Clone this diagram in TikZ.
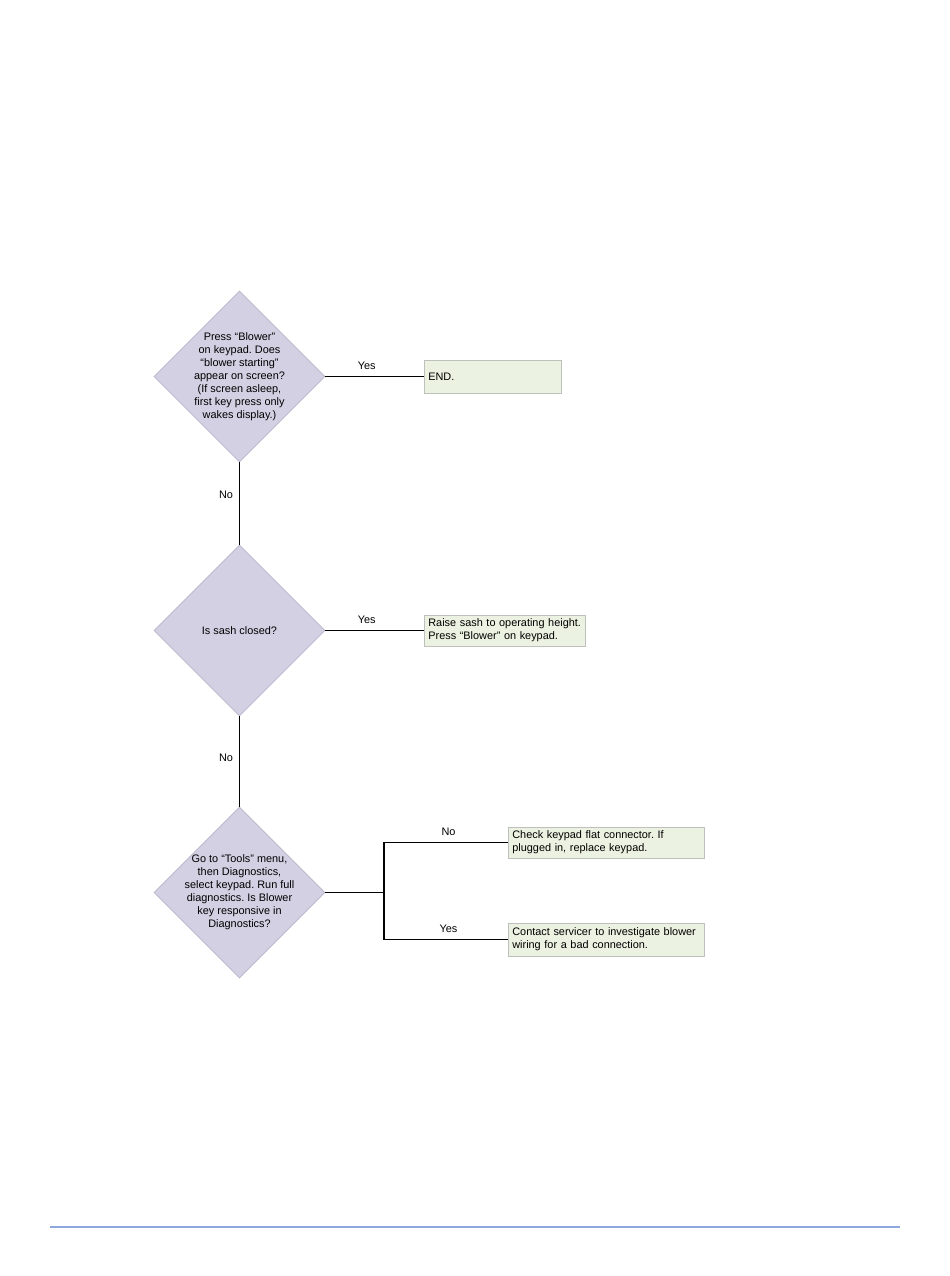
\documentclass[tikz,border=0pt]{standalone}
\usepackage{fontspec}
\setmainfont{Liberation Sans}
\usepackage{xcolor}
\usetikzlibrary{shapes.geometric}
\definecolor{LilaRombo}{RGB}{212,208,227}
\definecolor{BordeRombo}{RGB}{184,180,200}
\definecolor{VerdeCaja}{RGB}{236,242,225}
\definecolor{BordeCaja}{RGB}{190,192,188}
\definecolor{AzulLinea}{RGB}{143,168,220}
\frenchspacing

\begin{document}
\begin{tikzpicture}[
    font=\fontsize{6.2}{7.4}\selectfont,
    rombo/.style={diamond,draw=BordeRombo,fill=LilaRombo,
      minimum width=3.42cm,minimum height=3.42cm,inner sep=0pt},
    pregunta/.style={align=center},
    caja/.style={draw=BordeCaja,fill=VerdeCaja,anchor=west,
      align=left,inner xsep=0.08cm,inner ysep=0pt},
    linea/.style={line width=0.7pt}]
  \useasboundingbox (0,0) rectangle (19,-25.52);

  % preguntas
  \node[rombo] (q1) at (4.79,-7.53) {};
  \node[pregunta] (q1t) at (q1) {Press “Blower”\\ on keypad. Does\\ “blower starting”\\
    appear on screen?\\ (If screen asleep,\\ first key press only\\ wakes display.)};
  \node[rombo] (q2) at (4.79,-12.61) {};
  \node[pregunta] (q2t) at (q2) {Is sash closed?};
  \node[rombo] (q3) at (4.79,-17.85) {};
  \node[pregunta] (q3t) at (q3) {Go to “Tools” menu,\\ then Diagnostics,\\ select keypad. Run full\\
    diagnostics. Is Blower\\ key responsive in\\ Diagnostics?};

  % respuestas
  \node[caja,minimum width=2.74cm,minimum height=0.66cm,text width=2.58cm]
    (b1) at (8.48,-7.53) {END.};
  \node[caja,minimum width=3.22cm,minimum height=0.62cm,text width=3.06cm]
    (b2) at (8.48,-12.61) {Raise sash to operating height.\\ Press “Blower” on keypad.};
  \node[caja,minimum width=3.92cm,minimum height=0.62cm,text width=3.76cm]
    (b3) at (10.16,-16.85) {Check keypad flat connector. If\\ plugged in, replace keypad.};
  \node[caja,minimum width=3.92cm,minimum height=0.66cm,text width=3.76cm]
    (b4) at (10.16,-18.79) {Contact servicer to investigate blower\\ wiring for a bad connection.};

  % conectores
  \draw[linea] (q1.east) -- node[pos=0.42,above] {Yes} (b1.west);
  \draw[linea] (q1.south) -- node[pos=0.4,left] {No} (q2.north);
  \draw[linea] (q2.east) -- node[pos=0.42,above] {Yes} (b2.west);
  \draw[linea] (q2.south) -- node[pos=0.46,left] {No} (q3.north);
  \coordinate (split) at (7.68,-17.85);
  \draw[linea] (q3.east) -- (split);
  \draw[linea] (split) |- node[pos=0.76,above] {No} (b3.west);
  \draw[linea] (split) |- node[pos=0.76,above] {Yes} (b4.west);

  \draw[AzulLinea,line width=0.6pt] (1.0,-24.54) -- (18.0,-24.54);
\end{tikzpicture}
\end{document}
